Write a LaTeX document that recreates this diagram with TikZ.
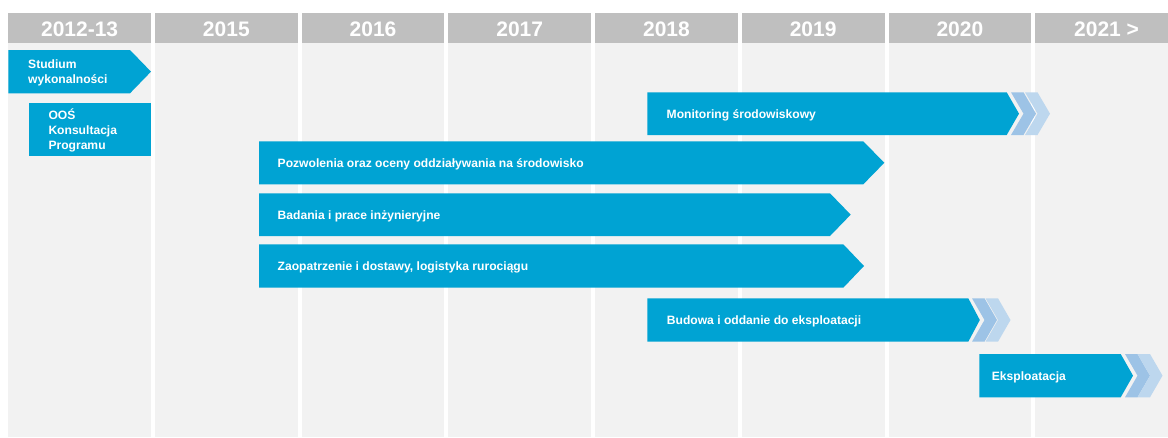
\documentclass[tikz,border=0pt]{standalone}
\usepackage{fontspec}
\setmainfont{Liberation Sans}
\definecolor{barblue}{HTML}{00A3D3}
\definecolor{chevA}{HTML}{9DC3E6}
\definecolor{chevB}{HTML}{BDD7EE}
\definecolor{headgray}{HTML}{BFBFBF}
\definecolor{bodygray}{HTML}{F2F2F2}
\newcommand\tipbar[5]{% x0, ytop, xend, ybot, d
  \fill[barblue] (#1,#2) -- (#3,#2) -- ({#3+#5},{(#2+#4)/2}) -- (#3,#4) -- (#1,#4) -- cycle;}
\newcommand\chev[4]{% x0, ytop, ybot, color
  \fill[#4] (#1,#2) -- ({#1+12.5},#2) -- ({#1+25},{(#2+#3)/2}) -- ({#1+12.5},#3) -- (#1,#3) -- ({#1+12.5},{(#2+#3)/2}) -- cycle;}
\begin{document}
\begin{tikzpicture}[x=1pt,y=-1pt,
  headtext/.style={font=\bfseries\fontsize{21}{24}\selectfont, text=white, inner sep=0pt},
  bartext/.style={font=\bfseries\fontsize{12.1}{15}\selectfont, text=white, inner sep=0pt, anchor=west, align=left}]
\useasboundingbox (0,0) rectangle (1168,437);
\fill[white] (0,0) rectangle (1168,437);
\begin{scope}
\clip (0,0) rectangle (1168,437);
\foreach \i/\lab in {0/2012-13,1/2015,2/2016,3/2017,4/2018,5/2019,6/2020,7/{2021 >}} {
  \pgfmathsetmacro\xl{8.3+146.7*\i}
  \fill[headgray] (\xl,13.3) rectangle ({\xl+142.7},43.3);
  \fill[bodygray] (\xl,43.3) rectangle ({\xl+142.7},436.7);
  \node[headtext] (h\i) at ({\xl+71.35},28.8) {\lab};
}
\end{scope}
% Studium
\tipbar{8.3}{50}{130}{93.3}{21}
\node[bartext] (stud) at (28,72.5) {Studium\\wykonalności};
% OOS
\fill[barblue] (29,102.7) rectangle (151,155.7);
\node[bartext] (oos) at (48.3,130.5) {OOŚ\\Konsultacja\\Programu};
% Monitoring
\tipbar{647.3}{92.3}{1006.7}{135}{12.3}
\chev{1011}{92.3}{135}{chevA}
\chev{1025}{92.3}{135}{chevB}
\node[bartext] (mon) at (666.5,115.2) {Monitoring środowiskowy};
% Pozwolenia
\tipbar{259}{141.3}{863.3}{184.3}{21}
\node[bartext] (poz) at (277.5,164.2) {Pozwolenia oraz oceny oddziaływania na środowisko};
% Badania
\tipbar{259}{193.3}{830}{236}{20.7}
\node[bartext] (bad) at (277.5,216.1) {Badania i prace inżynieryjne};
% Zaopatrzenie
\tipbar{259}{244.3}{843.3}{287.7}{20.7}
\node[bartext] (zao) at (277.5,267.5) {Zaopatrzenie i dostawy, logistyka rurociągu};
% Budowa
\tipbar{647.3}{298.3}{968.3}{341.7}{11.5}
\chev{972}{298.3}{341.7}{chevA}
\chev{985.5}{298.3}{341.7}{chevB}
\node[bartext] (bud) at (666.7,321.5) {Budowa i oddanie do eksploatacji};
% Eksploatacja
\tipbar{979.3}{354}{1120.7}{397.3}{12.3}
\chev{1125}{354}{397.3}{chevA}
\chev{1137.5}{354}{397.3}{chevB}
\node[bartext] (eks) at (991.7,377.2) {Eksploatacja};
\end{tikzpicture}
\end{document}
